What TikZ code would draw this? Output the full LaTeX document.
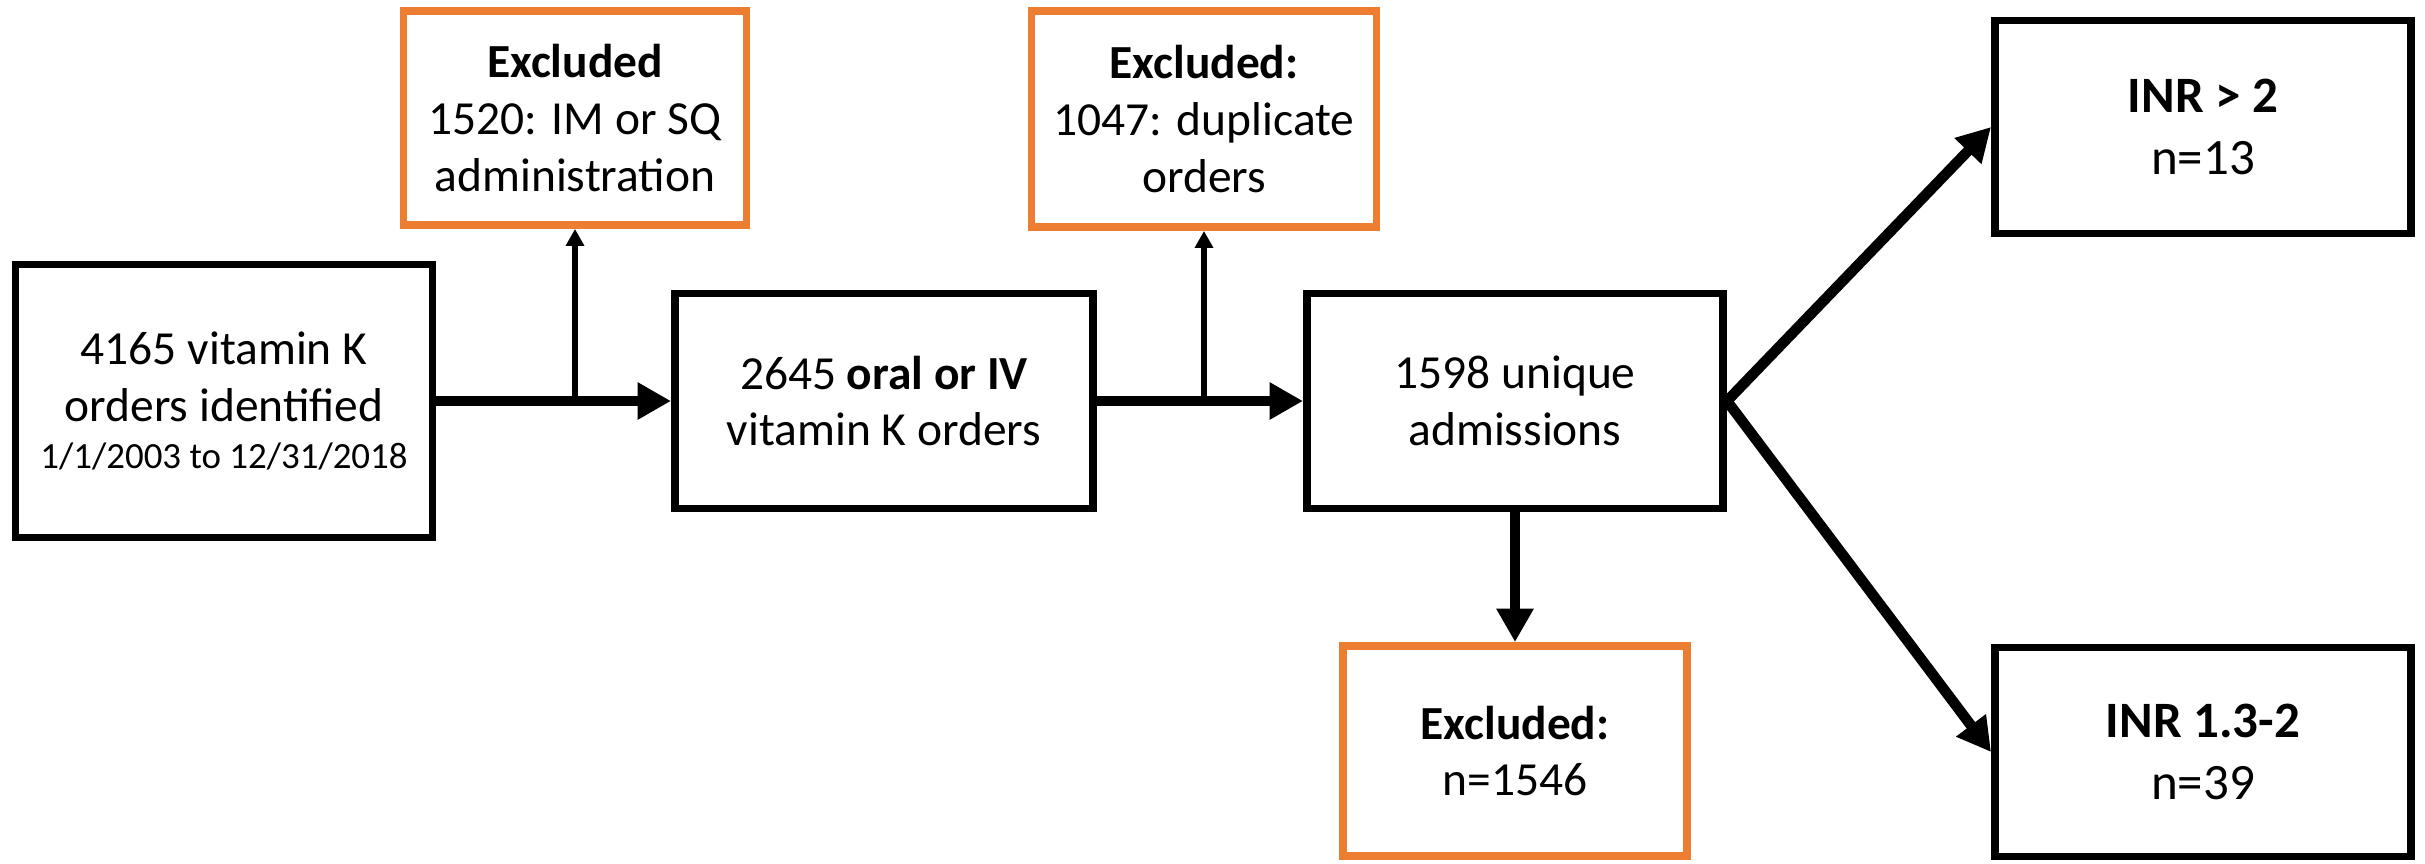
\documentclass[tikz,border=0pt]{standalone}
\usepackage{fontspec}
\setmainfont{Carlito}
\usetikzlibrary{arrows.meta}
\definecolor{exclorange}{HTML}{ED7D31}
\tikzset{
  stagebox/.style={draw=black,line width=2.2pt,align=center,inner sep=0pt,
    font=\fontsize{13.5}{16.2}\selectfont},
  exclbox/.style={draw=exclorange,line width=2.2pt,align=center,inner sep=0pt,
    font=\fontsize{13.5}{16.2}\selectfont},
  inrbox/.style={stagebox,font=\fontsize{14.5}{17.8}\selectfont},
  flow/.style={line width=3pt,-{Triangle[length=9.5pt,width=10pt]}},
  side/.style={line width=1.7pt,-{Triangle[length=4.8pt,width=5pt]}}
}
\begin{document}
\begin{tikzpicture}[x=0.01cm,y=-0.01cm]
        \useasboundingbox (0,0) rectangle (2425,863);
        \node[stagebox,minimum width=4.17cm,minimum height=2.73cm] (orders) at (224,401)
          {4165 vitamin K\\orders identified\\[-3pt]{\fontsize{10.5}{12.6}\selectfont 1/1/2003 to 12/31/2018}};
        \node[stagebox,minimum width=4.18cm,minimum height=2.15cm] (oral) at (884,401)
          {2645 \textbf{oral or IV}\\vitamin K orders};
        \node[stagebox,minimum width=4.16cm,minimum height=2.15cm] (unique) at (1515,401)
          {1598 unique\\admissions};
        \node[exclbox,minimum width=3.43cm,minimum height=2.14cm] (excla) at (575,118)
          {\textbf{Excluded}\\1520: IM or SQ\\administration};
        \node[exclbox,minimum width=3.45cm,minimum height=2.16cm] (exclb) at (1204,119)
          {\textbf{Excluded:}\\1047: duplicate\\orders};
        \node[exclbox,minimum width=3.44cm,minimum height=2.10cm] (exclc) at (1515,751)
          {\textbf{Excluded:}\\n=1546};
        \node[inrbox,minimum width=4.16cm,minimum height=2.13cm] (inrhigh) at (2203,127)
          {\textbf{INR > 2}\\n=13};
        \node[inrbox,minimum width=4.16cm,minimum height=2.09cm] (inrmid) at (2203,752)
          {\textbf{INR 1.3-2}\\n=39};
        \coordinate (splita) at (575,401);
        \coordinate (splitb) at (1204,401);
        \draw[flow] (orders) -- (oral);
        \draw[flow] (oral) -- (unique);
        \draw[side] (splita) -- (excla);
        \draw[side] (splitb) -- (exclb);
        \draw[flow] (unique) -- (exclc);
        \draw[flow] (unique.east) -- (inrhigh.west);
        \draw[flow] (unique.east) -- (inrmid.west);
      \end{tikzpicture}
\end{document}
